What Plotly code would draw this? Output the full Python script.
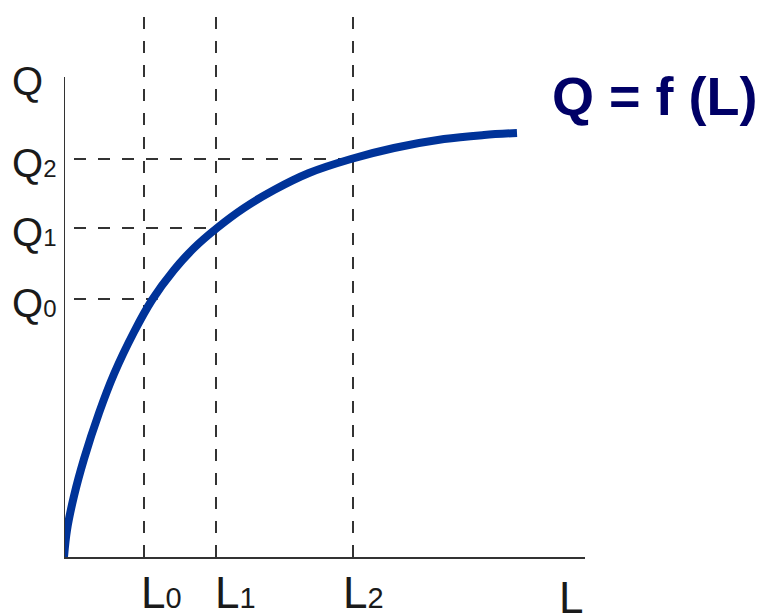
import numpy as np
import plotly.graph_objects as go

# production function Q = f(L)
labor = [0, 0.3, 1, 2, 3.5, 5, 7, 8.8, 11, 13, 15.3, 18, 21, 24.5, 28.7,
         33, 38, 42, 45.3]
output = [0, 2.7, 6.1, 9.8, 14.4, 18.3, 22.5, 25.7, 28.7, 30.9, 32.9, 34.9,
          36.7, 38.4, 39.8, 40.9, 41.8, 42.2, 42.4]

# marked input / output levels
l_levels = [8.0, 15.2, 28.9]
q_levels = [25.8, 32.9, 39.8]
subs = ["0", "1", "2"]

L_MAX = 52.1
Q_MAX = 54.5
Q_AXIS_TOP = 48.0

guide = dict(color="#333333", width=2, dash="12px,12px")
txt = "#1a1a1a"
font = "Liberation Sans, Arial, sans-serif"

fig = go.Figure()

# vertical dashed guides from the L axis to the top
for l in l_levels:
    fig.add_shape(type="line", xref="x", yref="y", x0=l, x1=l, y0=0, y1=Q_MAX,
                  line=guide, layer="below")

# horizontal dashed guides from the Q axis to just past the curve
for q in q_levels:
    l_end = float(np.interp(q, output, labor)) + 0.5
    fig.add_shape(type="line", xref="x", yref="y", x0=1.0, x1=l_end, y0=q, y1=q,
                  line=guide, layer="below")

# Q axis line (shorter than the guides)
fig.add_shape(type="line", xref="x", yref="y", x0=0, x1=0, y0=0, y1=Q_AXIS_TOP,
              line=dict(color="#333333", width=2))

fig.add_trace(go.Scatter(
    x=labor, y=output, mode="lines",
    line=dict(color="#003399", width=8, shape="spline", smoothing=1.0),
    hoverinfo="skip", showlegend=False,
))

# Q labels
fig.add_annotation(x=-0.103, xref="paper", y=47.6, yref="y", xanchor="left",
                   yanchor="middle", text="Q", showarrow=False,
                   font=dict(family=font, size=40, color=txt))
for q, s in zip(q_levels, subs):
    fig.add_annotation(x=-0.103, xref="paper", y=q, yref="y", yshift=-4,
                       xanchor="left", yanchor="middle", showarrow=False,
                       text=f"Q<span style='font-size:24px'>{s}</span>",
                       font=dict(family=font, size=40, color=txt))

# L labels
for l, s, dx in zip(l_levels, subs, [-5, -3, -12]):
    fig.add_annotation(x=l, xref="x", y=-0.066, yref="paper", xshift=dx,
                       xanchor="left", yanchor="middle", showarrow=False,
                       text=f"L<span style='font-size:29px'>{s}</span>",
                       font=dict(family=font, size=44, color=txt))
fig.add_annotation(x=0.974, xref="paper", y=-0.0734, yref="paper",
                   xanchor="center", yanchor="middle", text="L", showarrow=False,
                   font=dict(family=font, size=44, color=txt))

# function label
fig.add_annotation(x=0.933, xref="paper", y=0.845, yref="paper",
                   xanchor="left", yanchor="middle", text="<b>Q = f (L)</b>",
                   showarrow=False, font=dict(family=font, size=54, color="#000066"))

# the page body adds an 8px margin, so the figure is 8px smaller on each side
fig.update_layout(
    width=763, height=607,
    margin=dict(l=56, r=186, t=4, b=58),
    paper_bgcolor="white", plot_bgcolor="white",
    xaxis=dict(range=[0, L_MAX], showgrid=False, zeroline=False, showticklabels=False,
               ticks="", showline=True, linecolor="#333333", linewidth=2, fixedrange=True),
    yaxis=dict(range=[0, Q_MAX], showgrid=False, zeroline=False, showticklabels=False,
               ticks="", showline=False, fixedrange=True),
)

fig.write_html("out.html")
